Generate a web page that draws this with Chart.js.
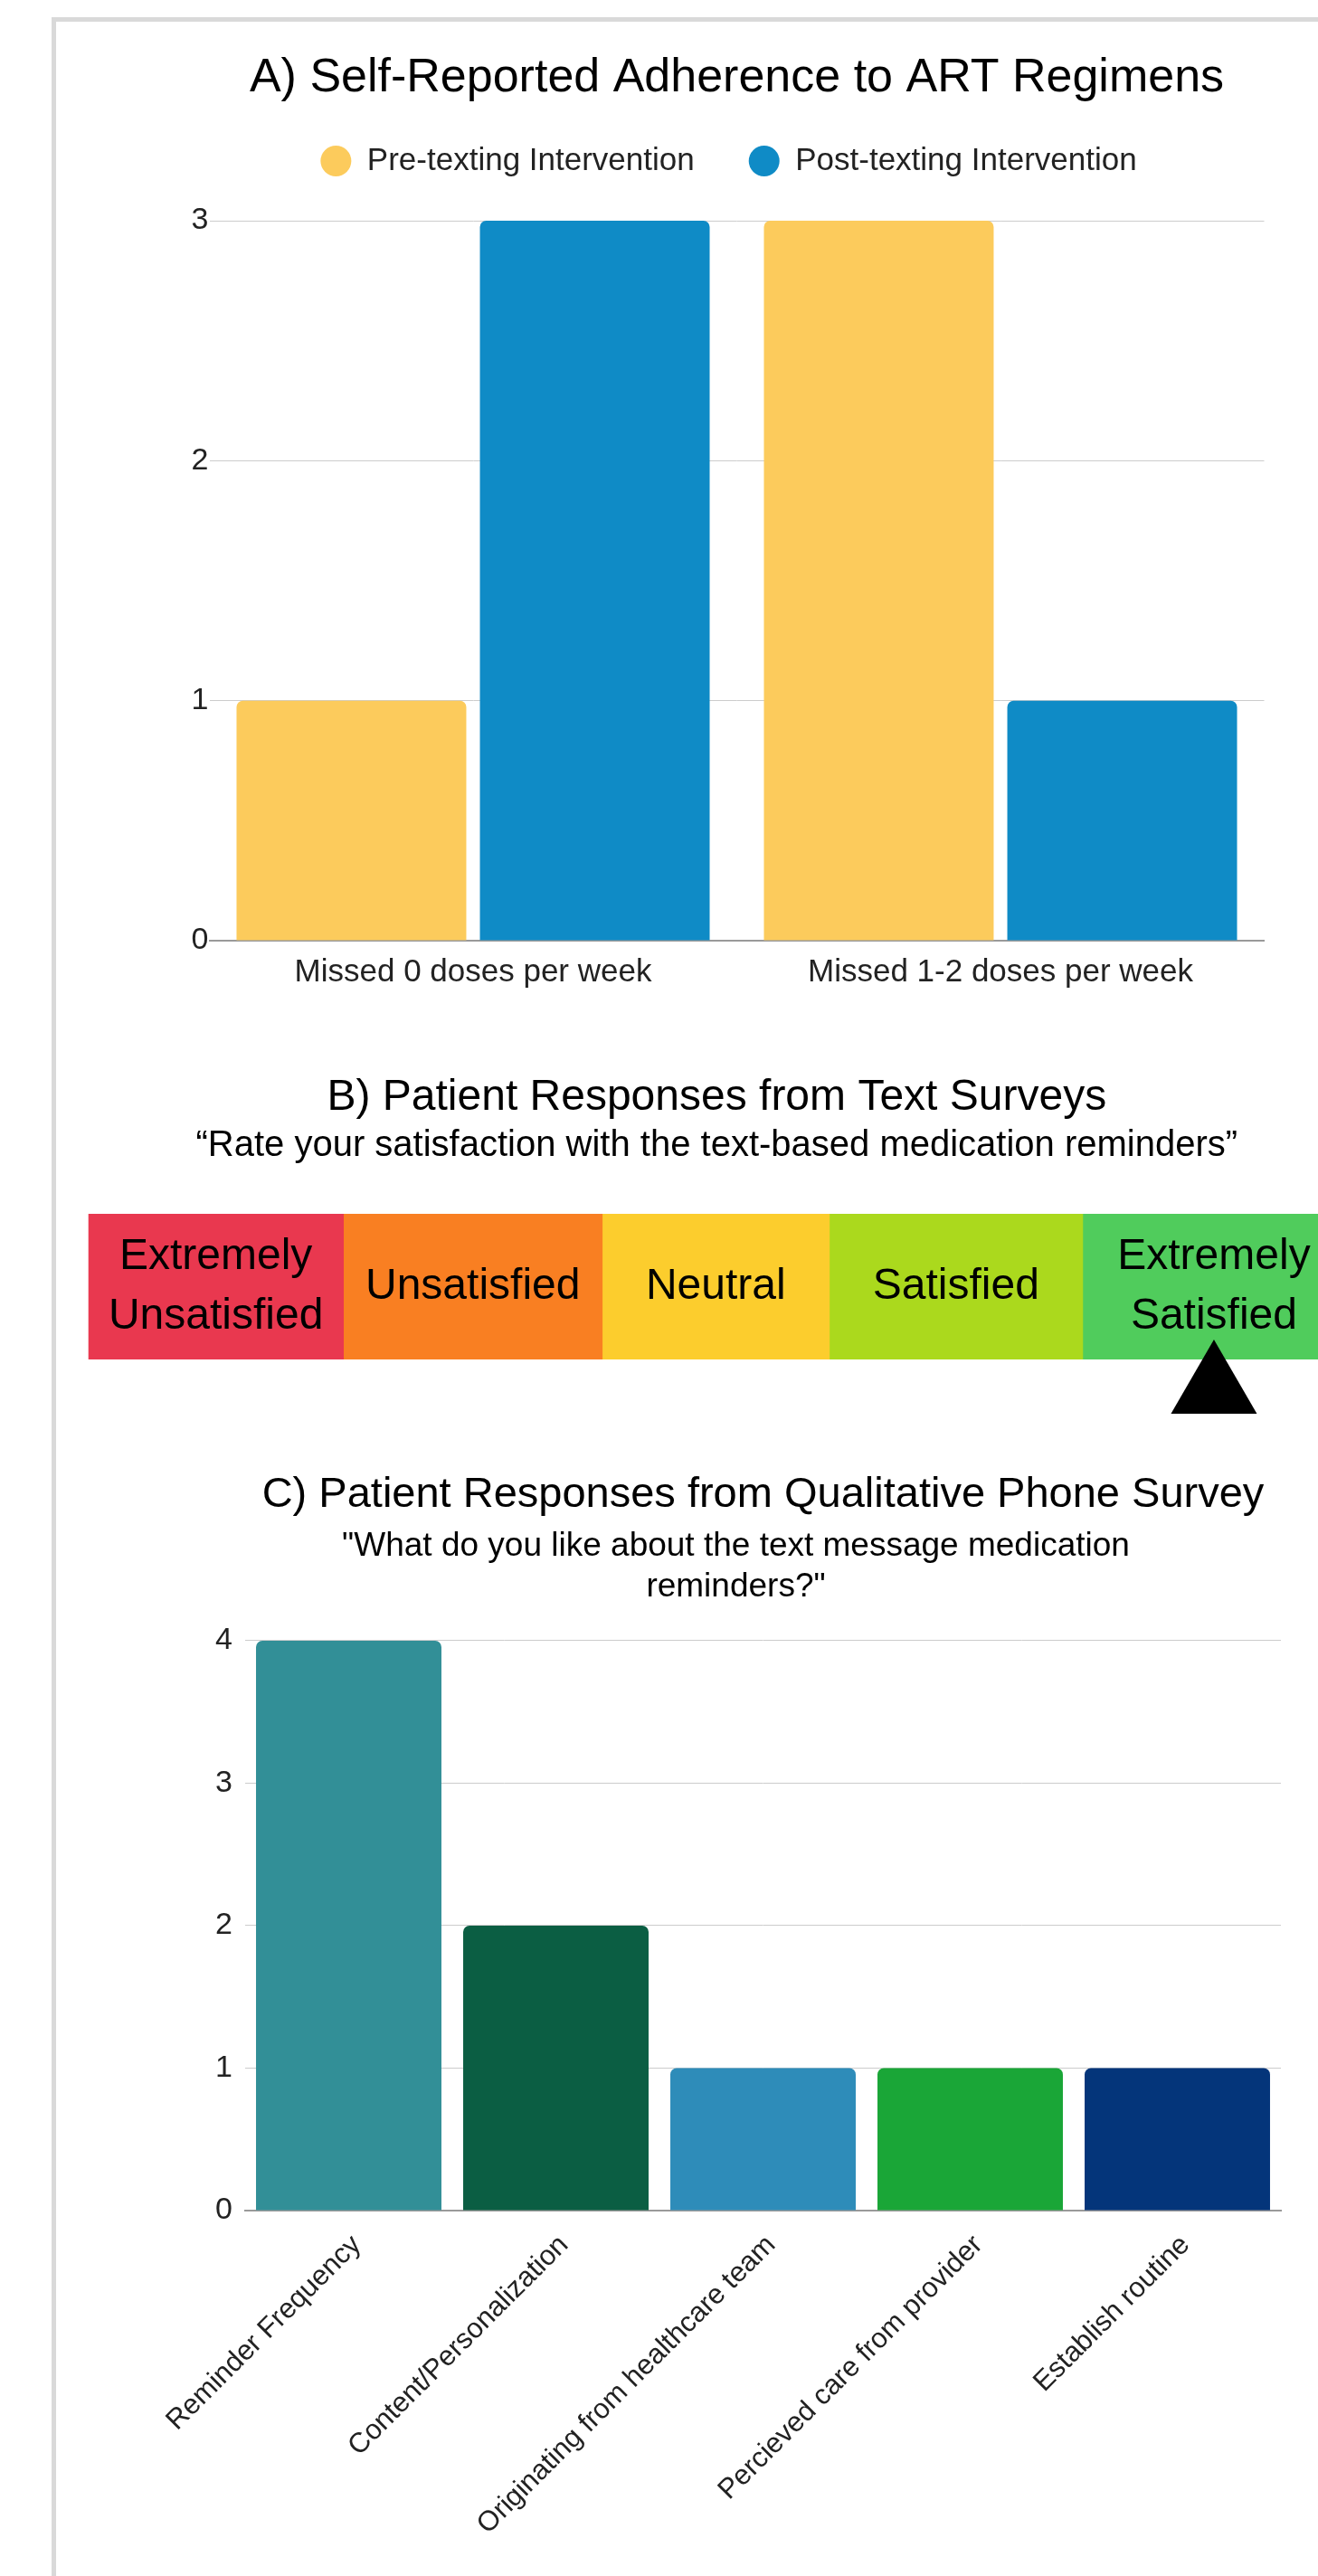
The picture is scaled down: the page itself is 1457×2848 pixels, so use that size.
<!DOCTYPE html>
<html>
<head>
<meta charset="utf-8">
<script src="https://cdn.jsdelivr.net/npm/chart.js@4.4.1/dist/chart.umd.min.js"></script>
<style>
  html, body { margin: 0; padding: 0; background: #fff; overflow: hidden; }
  body { width: 1457px; height: 2848px; position: relative; }
  .frame { position: absolute; left: 57px; top: 19px; width: 2000px; height: 3000px;
           border-left: 5px solid #d9d9d9; border-top: 5px solid #d9d9d9; }
  canvas { position: absolute; }
</style>
</head>
<body>
<div class="frame"></div>
<canvas id="adherence" width="1307" height="1100" style="left:150px;top:0"></canvas>
<canvas id="satisfaction" width="1500" height="460" style="left:0;top:1130px"></canvas>
<canvas id="likes" width="1307" height="1288" style="left:150px;top:1560px"></canvas>
<script>
// A) adherence
const doseLabels = ['Missed 0 doses per week', 'Missed 1-2 doses per week'];
const preTexting = [1, 3];
const postTexting = [3, 1];

// B) satisfaction scale
const ratingLabels = [['Extremely', 'Unsatisfied'], ['Unsatisfied'], ['Neutral'], ['Satisfied'], ['Extremely', 'Satisfied']];
const ratingSpans = [282, 286, 251, 280, 290];
const ratingColors = ['#e9384f', '#f97f22', '#fccd2d', '#abd91d', '#50cc5c'];
const chosenRating = 4;

// C) phone survey
const likeLabels = ['Reminder Frequency', 'Content/Personalization', 'Originating from healthcare team', 'Percieved care from provider', 'Establish routine'];
const likeCounts = [4, 2, 1, 1, 1];
const likeColors = ['#328f97', '#0b5e43', '#2e8cb9', '#1aa637', '#04357a'];

const FONT = "'Liberation Sans', Arial, sans-serif";
Chart.defaults.font.family = FONT;
Chart.defaults.color = '#222';
Chart.defaults.animation = false;
Chart.defaults.plugins.tooltip.enabled = false;

// extra room under the legend, and nudge it a little left
const legendGap = {
  id: 'legendGap',
  beforeInit(chart) {
    const fit = chart.legend.fit;
    chart.legend.fit = function () { fit.call(this); this.height += 38.5; };
  },
  afterLayout(chart) {
    chart.legend.left -= 9;
    chart.legend.right -= 9;
  }
};

new Chart(document.getElementById('adherence'), {
  type: 'bar',
  data: {
    labels: doseLabels,
    datasets: [
      { label: 'Pre-texting Intervention', data: preTexting, backgroundColor: '#fccb5c', pointStyle: 'circle' },
      { label: 'Post-texting Intervention', data: postTexting, backgroundColor: '#0f8bc6', pointStyle: 'circle' }
    ]
  },
  options: {
    responsive: false,
    devicePixelRatio: 1,
    layout: { padding: { left: 21.5, right: 59.5, top: 0, bottom: 0 } },
    datasets: { bar: { categoryPercentage: 0.923, barPercentage: 0.944, borderRadius: 7 } },
    plugins: {
      title: {
        display: true, fullSize: false, text: 'A) Self-Reported Adherence to ART Regimens', color: '#000',
        font: { size: 52, weight: 'normal', lineHeight: 1.2 }, padding: { top: 55.8, bottom: -17.7 }
      },
      legend: {
        fullSize: false,
        labels: { usePointStyle: true, pointStyleWidth: 34, boxHeight: 24, padding: 60, font: { size: 35 }, color: '#222' }
      }
    },
    scales: {
      x: {
        grid: { display: false },
        border: { color: '#9a9a9a', width: 2 },
        ticks: { font: { size: 35 }, padding: 6 },
        afterFit: s => { s.height = 60; }
      },
      y: {
        min: 0, max: 3,
        ticks: { stepSize: 1, font: { size: 34 }, padding: 1 },
        grid: { color: '#cccccc', drawTicks: false },
        border: { display: false },
        afterFit: s => { s.width = 60; }
      }
    }
  },
  plugins: [legendGap]
});

const ratingText = {
  id: 'ratingText',
  afterDatasetsDraw(chart) {
    const ctx = chart.ctx;
    ctx.save();
    ctx.font = '48px ' + FONT;
    ctx.fillStyle = '#000';
    ctx.textAlign = 'center';
    ctx.textBaseline = 'middle';
    ratingLabels.forEach((lines, i) => {
      const bar = chart.getDatasetMeta(i).data[0];
      const cx = (bar.x + bar.base) / 2;
      lines.forEach((line, j) => ctx.fillText(line, cx, bar.y + (j - (lines.length - 1) / 2) * 66));
    });
    // arrow under the chosen rating
    const pick = chart.getDatasetMeta(chosenRating).data[0];
    const px = (pick.x + pick.base) / 2;
    const tip = pick.y + pick.height / 2 - 22;
    ctx.beginPath();
    ctx.moveTo(px, tip);
    ctx.lineTo(px + 47.5, tip + 82);
    ctx.lineTo(px - 47.5, tip + 82);
    ctx.closePath();
    ctx.fill();
    ctx.restore();
  }
};

new Chart(document.getElementById('satisfaction'), {
  type: 'bar',
  data: {
    labels: ['rating'],
    datasets: ratingLabels.map((lines, i) => ({
      label: lines.join(' '), data: [ratingSpans[i]], backgroundColor: ratingColors[i]
    }))
  },
  options: {
    indexAxis: 'y',
    responsive: false,
    devicePixelRatio: 1,
    layout: { padding: { left: 97.6, right: 13, top: 0, bottom: 87 } },
    datasets: { bar: { categoryPercentage: 1, barPercentage: 1 } },
    plugins: {
      legend: { display: false },
      title: {
        display: true, text: 'B) Patient Responses from Text Surveys', color: '#000',
        font: { size: 48, weight: 'normal', lineHeight: 1.2 }, padding: { top: 55, bottom: 0 }
      },
      subtitle: {
        display: true, text: '\u201cRate your satisfaction with the text-based medication reminders\u201d', color: '#000',
        font: { size: 40, lineHeight: 1.2 }, padding: { top: 0, bottom: 51.4 }
      }
    },
    scales: {
      x: { stacked: true, min: 0, max: ratingSpans.reduce((a, b) => a + b, 0), display: false },
      y: { stacked: true, display: false }
    }
  },
  plugins: [ratingText]
});

new Chart(document.getElementById('likes'), {
  type: 'bar',
  data: {
    labels: likeLabels,
    datasets: [{ data: likeCounts, backgroundColor: likeColors }]
  },
  options: {
    responsive: false,
    devicePixelRatio: 1,
    layout: { padding: { left: 61, right: 41, top: 0, bottom: 0 } },
    datasets: { bar: { categoryPercentage: 0.895, barPercentage: 1, borderRadius: 7 } },
    plugins: {
      legend: { display: false },
      title: {
        display: true, fullSize: false, text: 'C) Patient Responses from Qualitative Phone Survey', color: '#000',
        font: { size: 47, weight: 'normal', lineHeight: 1.2 }, padding: { top: 64.8, bottom: 0 }
      },
      subtitle: {
        display: true, fullSize: true, text: ['"What do you like about the text message medication', 'reminders?"'], color: '#000',
        font: { size: 37, lineHeight: 1.2162 }, padding: { top: 6, bottom: 36.8 }
      }
    },
    scales: {
      x: {
        grid: { display: false },
        border: { color: '#9a9a9a', width: 2 },
        ticks: { font: { size: 31 }, padding: 12, labelOffset: 9, minRotation: 45, maxRotation: 45, autoSkip: false },
        afterFit: s => { s.height = 404; }
      },
      y: {
        min: 0, max: 4,
        ticks: { stepSize: 1, font: { size: 34 }, padding: 14 },
        grid: { color: '#cccccc', drawTicks: false },
        border: { display: false },
        afterFit: s => { s.width = 60; }
      }
    }
  }
});
</script>
</body>
</html>
